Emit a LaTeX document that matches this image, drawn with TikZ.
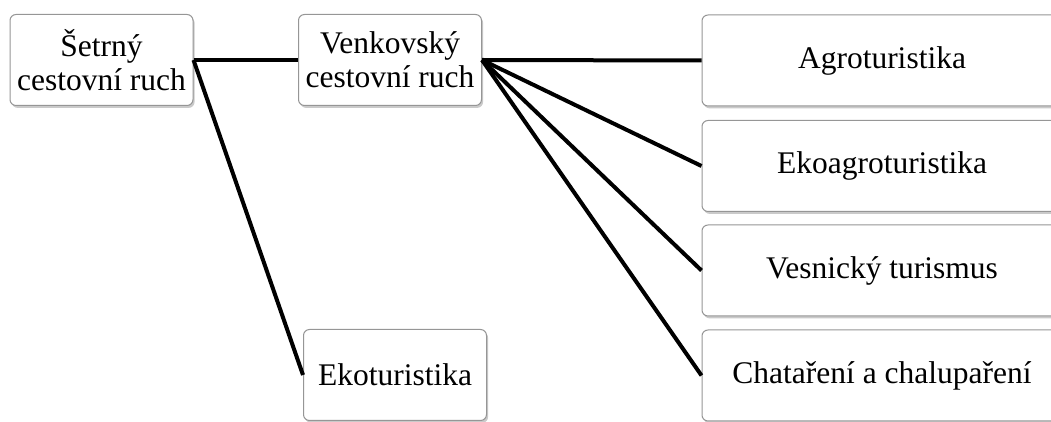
\documentclass[tikz,border=0pt]{standalone}
\usepackage{fontspec}
\setmainfont{Liberation Serif}
\usetikzlibrary{shadows}
\definecolor{boxline}{RGB}{150,150,150}

\begin{document}
\begin{tikzpicture}[
  x=0.5pt, y=-0.5pt,
  tour node/.style={draw=boxline, line width=0.5pt, fill=white, rounded corners=3pt,
    inner sep=0pt, align=center, font=\fontsize{15.75}{17}\selectfont,
    drop shadow={shadow xshift=0.8pt, shadow yshift=-1.2pt, opacity=0.35, fill=black!60}},
  small node/.style={tour node, minimum width=91.5pt, minimum height=45.5pt},
  wide node/.style={tour node, minimum width=180pt, minimum height=45.5pt},
  tour edge/.style={line width=2pt}
]
\useasboundingbox (0,0) rectangle (1051,422);
\node[small node] (S) at (101.5, 60) {Šetrný\\cestovní ruch};
\node[small node] (V) at (390, 60) {Venkovský\\cestovní ruch};
\node[small node] (E) at (395, 375) {Ekoturistika};
\node[wide node] (A) at (882, 60.5) {Agroturistika};
\node[wide node] (K) at (882, 166) {Ekoagroturistika};
\node[wide node] (N) at (882, 270.5) {Vesnický turismus};
\node[wide node] (C) at (882, 375.5) {Chataření a chalupaření};
\draw[tour edge] (S.east) -- (V.west);
\draw[tour edge] (S.east) -- (E.west);
\draw[tour edge] (V.east) -- (A.west);
\draw[tour edge] (V.east) -- (K.west);
\draw[tour edge] (V.east) -- (N.west);
\draw[tour edge] (V.east) -- (C.west);
\end{tikzpicture}
\end{document}
